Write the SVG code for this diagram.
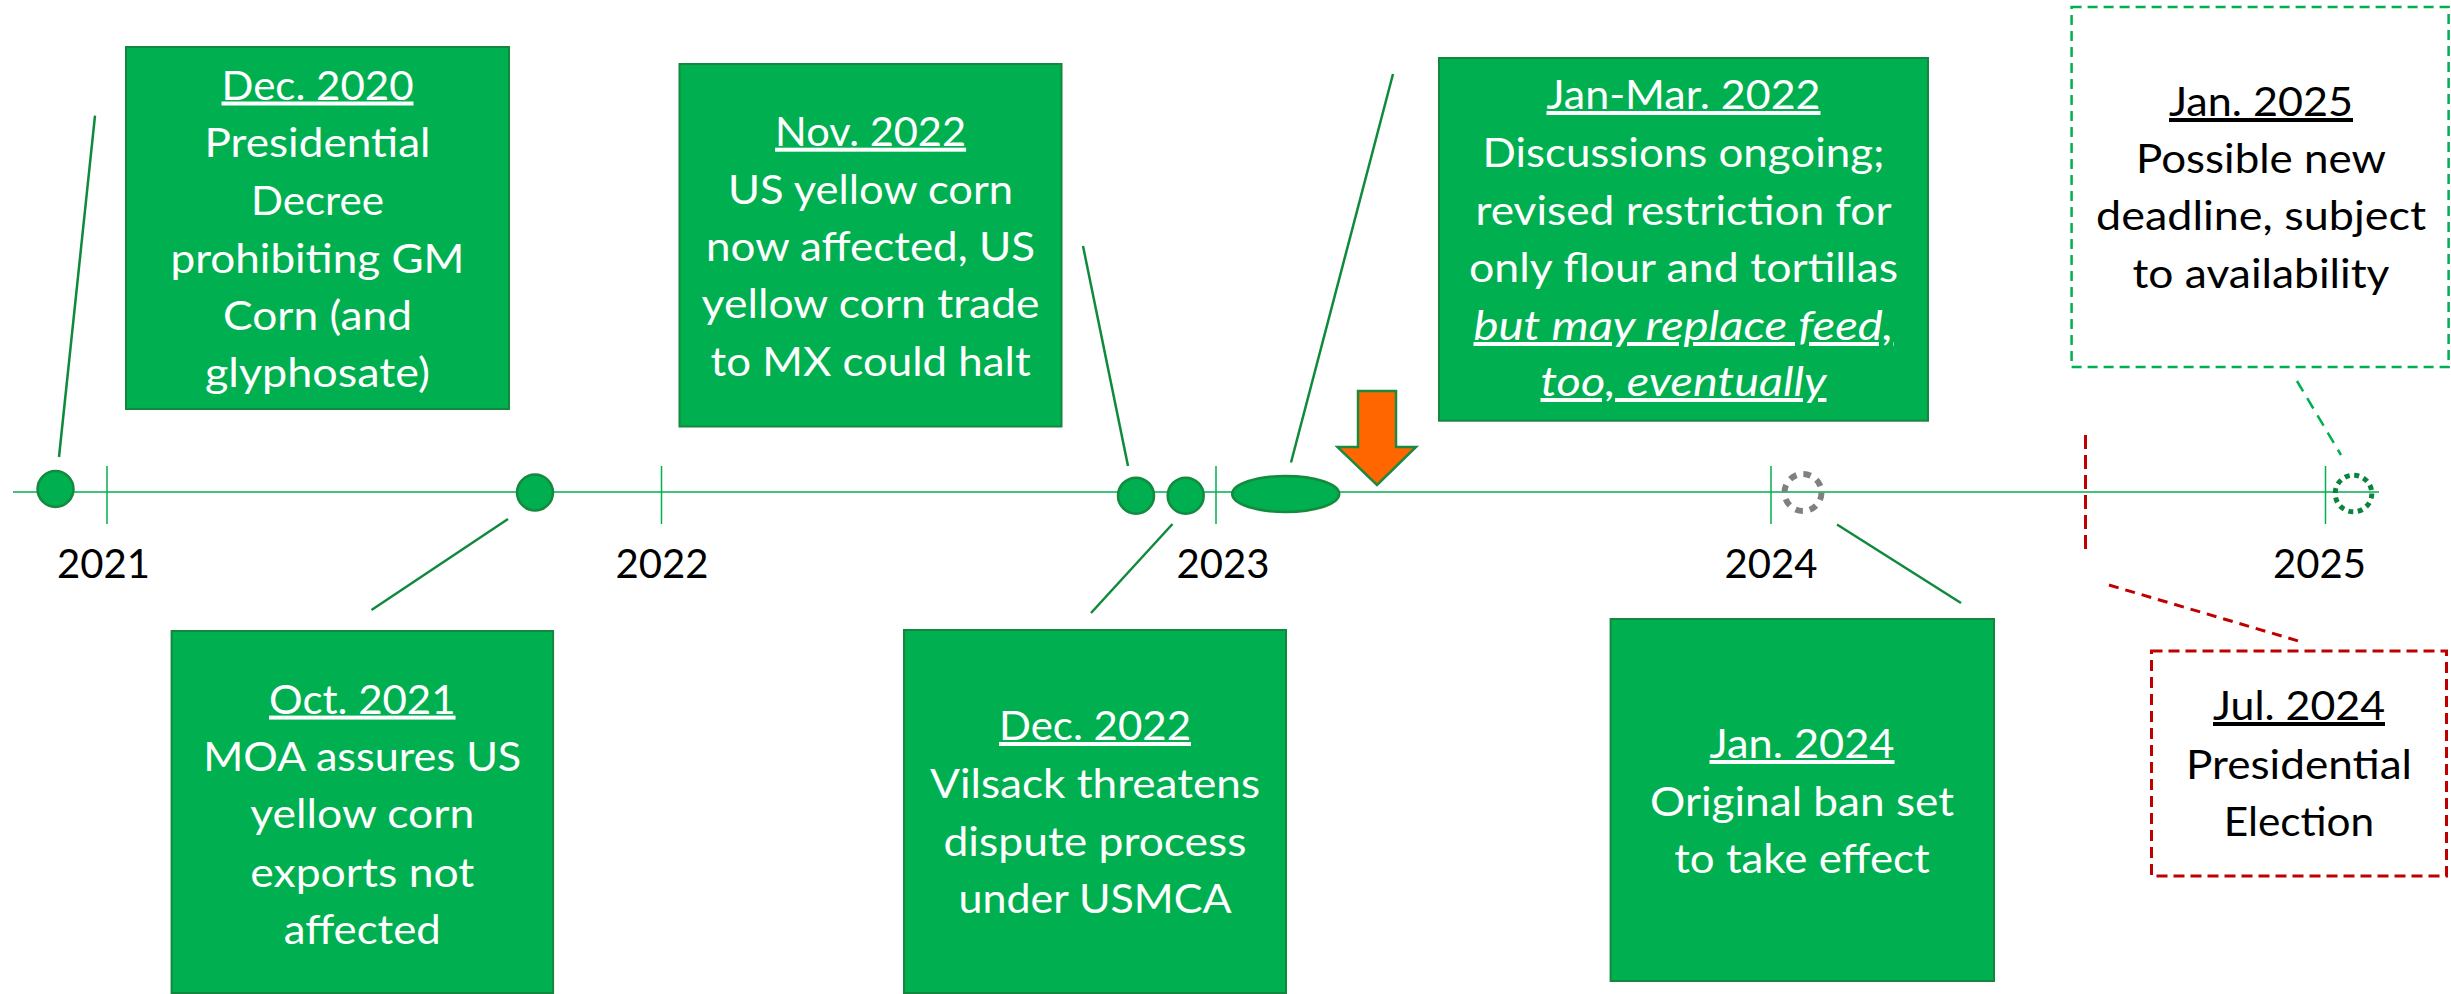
<svg xmlns="http://www.w3.org/2000/svg" width="2451" height="994" viewBox="0 0 2451 994">
  <style>
    .box { fill: #00B050; stroke: #14873F; stroke-width: 2; }
    .t { font-family: Lato, "Open Sans", "Liberation Sans", sans-serif; font-size: 40px; text-anchor: middle; }
    .w { fill: #FFFFFF; }
    .k { fill: #000000; }
    .u { text-decoration: underline; text-decoration-thickness: 2.5px; text-underline-offset: 7px; }
    .i { font-style: italic; }
    .axis { stroke: #00B050; stroke-width: 1.5; fill: none; }
    .conn { stroke: #0F8A3C; stroke-width: 2.5; fill: none; }
    .mark { fill: #00B050; stroke: #138A3E; stroke-width: 2.5; }
    .greenDash { stroke: #00B050; stroke-width: 2.5; stroke-dasharray: 10 6; fill: none; }
    .redDash { stroke: #C00000; stroke-width: 3; stroke-dasharray: 11 6; fill: none; }
  </style>

  <rect width="2451" height="994" fill="#FFFFFF"/>

  <!-- time axis with yearly ticks -->
  <g id="axis">
    <line class="axis" x1="13" y1="492" x2="2379" y2="492"/>
    <line class="axis" x1="107" y1="466" x2="107" y2="524"/>
    <line class="axis" x1="661.5" y1="466" x2="661.5" y2="524"/>
    <line class="axis" x1="1216" y1="466" x2="1216" y2="524"/>
    <line class="axis" x1="1771" y1="466" x2="1771" y2="524"/>
    <line class="axis" x1="2325.5" y1="466" x2="2325.5" y2="524"/>
    <text class="t k" x="103.5" y="578" textLength="93" lengthAdjust="spacingAndGlyphs">2021</text>
    <text class="t k" x="662" y="578" textLength="93" lengthAdjust="spacingAndGlyphs">2022</text>
    <text class="t k" x="1223" y="578" textLength="93" lengthAdjust="spacingAndGlyphs">2023</text>
    <text class="t k" x="1771" y="578" textLength="93" lengthAdjust="spacingAndGlyphs">2024</text>
    <text class="t k" x="2319.5" y="578" textLength="93" lengthAdjust="spacingAndGlyphs">2025</text>
  </g>

  <!-- leader lines from events to their cards -->
  <g id="connectors">
    <line class="conn" x1="95" y1="115.6" x2="59" y2="457"/>
    <line class="conn" x1="508" y1="519" x2="371.5" y2="610"/>
    <line class="conn" x1="1083" y1="246" x2="1128" y2="466"/>
    <line class="conn" x1="1393" y1="74" x2="1291" y2="462.5"/>
    <line class="conn" x1="1172.5" y1="524" x2="1091" y2="613"/>
    <line class="conn" x1="1837" y1="524.5" x2="1961" y2="603"/>
    <line x1="2297" y1="381" x2="2341" y2="455" stroke="#00B050" stroke-width="2.5" stroke-dasharray="12 8"/>
    <line x1="2109" y1="585" x2="2298.5" y2="641" stroke="#C00000" stroke-width="3" stroke-dasharray="10 7"/>
    <line x1="2085.5" y1="435" x2="2085.5" y2="550" stroke="#C00000" stroke-width="3" stroke-dasharray="14 6"/>
  </g>

  <!-- event markers on the axis -->
  <g id="markers">
    <circle class="mark" cx="55.5" cy="489" r="18"/>
    <circle class="mark" cx="535" cy="492.5" r="18"/>
    <circle class="mark" cx="1136" cy="495.7" r="18"/>
    <circle class="mark" cx="1185.7" cy="495.7" r="18"/>
    <ellipse class="mark" cx="1285.7" cy="494" rx="53.5" ry="18"/>
    <circle cx="1803" cy="492.5" r="18.5" fill="none" stroke="#808080" stroke-width="6" stroke-dasharray="7.5 7"/>
    <circle cx="2353.5" cy="493.5" r="18.3" fill="none" stroke="#0A843C" stroke-width="5" stroke-dasharray="5 4.6"/>
    <polygon points="1358,391 1396,391 1396,447 1416,447 1377,485 1337.5,447 1358,447" fill="#FF6600" stroke="#1B8A3E" stroke-width="2.5" stroke-linejoin="miter"/>
  </g>

  <g id="dec2020">
    <rect class="box" x="126" y="47" width="383" height="362"/>
    <text class="t w u" x="317.5" y="99.5" textLength="192" lengthAdjust="spacingAndGlyphs">Dec. 2020</text>
    <text class="t w" x="317.5" y="157" textLength="226" lengthAdjust="spacingAndGlyphs">Presidential</text>
    <text class="t w" x="317.5" y="214.5" textLength="133" lengthAdjust="spacingAndGlyphs">Decree</text>
    <text class="t w" x="317.5" y="272.5" textLength="294" lengthAdjust="spacingAndGlyphs">prohibiting GM</text>
    <text class="t w" x="317.5" y="330" textLength="189" lengthAdjust="spacingAndGlyphs">Corn (and</text>
    <text class="t w" x="317.5" y="387" textLength="225" lengthAdjust="spacingAndGlyphs">glyphosate)</text>
  </g>

  <g id="oct2021">
    <rect class="box" x="171.6" y="631" width="381.5" height="362"/>
    <text class="t w u" x="362.3" y="713.6" textLength="186.5" lengthAdjust="spacingAndGlyphs">Oct. 2021</text>
    <text class="t w" x="362.3" y="770.5" textLength="318" lengthAdjust="spacingAndGlyphs">MOA assures US</text>
    <text class="t w" x="362.3" y="828" textLength="224" lengthAdjust="spacingAndGlyphs">yellow corn</text>
    <text class="t w" x="362.3" y="886.7" textLength="224" lengthAdjust="spacingAndGlyphs">exports not</text>
    <text class="t w" x="362.3" y="943.6" textLength="157" lengthAdjust="spacingAndGlyphs">affected</text>
  </g>

  <g id="nov2022">
    <rect class="box" x="679.5" y="64" width="382" height="362.5"/>
    <text class="t w u" x="870.6" y="145.7" textLength="191" lengthAdjust="spacingAndGlyphs">Nov. 2022</text>
    <text class="t w" x="870.6" y="203.6" textLength="285" lengthAdjust="spacingAndGlyphs">US yellow corn</text>
    <text class="t w" x="870.6" y="260.7" textLength="329" lengthAdjust="spacingAndGlyphs">now affected, US</text>
    <text class="t w" x="870.6" y="317.9" textLength="338" lengthAdjust="spacingAndGlyphs">yellow corn trade</text>
    <text class="t w" x="870.6" y="375.7" textLength="320" lengthAdjust="spacingAndGlyphs">to MX could halt</text>
  </g>

  <g id="dec2022">
    <rect class="box" x="904" y="630" width="382" height="363"/>
    <text class="t w u" x="1095" y="740" textLength="192" lengthAdjust="spacingAndGlyphs">Dec. 2022</text>
    <text class="t w" x="1095" y="797.7" textLength="330" lengthAdjust="spacingAndGlyphs">Vilsack threatens</text>
    <text class="t w" x="1095" y="856.4" textLength="303" lengthAdjust="spacingAndGlyphs">dispute process</text>
    <text class="t w" x="1095" y="913" textLength="273" lengthAdjust="spacingAndGlyphs">under USMCA</text>
  </g>

  <g id="janmar2022">
    <rect class="box" x="1439" y="58" width="489" height="362.7"/>
    <text class="t w u" x="1683.5" y="109" textLength="274" lengthAdjust="spacingAndGlyphs">Jan-Mar. 2022</text>
    <text class="t w" x="1683.5" y="167" textLength="402" lengthAdjust="spacingAndGlyphs">Discussions ongoing;</text>
    <text class="t w" x="1683.5" y="225" textLength="416" lengthAdjust="spacingAndGlyphs">revised restriction for</text>
    <text class="t w" x="1683.5" y="282" textLength="429" lengthAdjust="spacingAndGlyphs">only flour and tortillas</text>
    <text class="t w u i" x="1683.5" y="340" textLength="420" lengthAdjust="spacingAndGlyphs">but may replace feed,</text>
    <text class="t w u i" x="1683.5" y="396" textLength="286" lengthAdjust="spacingAndGlyphs">too, eventually</text>
  </g>

  <g id="jan2024">
    <rect class="box" x="1610.6" y="619" width="383.4" height="362"/>
    <text class="t w u" x="1802" y="758" textLength="185" lengthAdjust="spacingAndGlyphs">Jan. 2024</text>
    <text class="t w" x="1802" y="816" textLength="304" lengthAdjust="spacingAndGlyphs">Original ban set</text>
    <text class="t w" x="1802" y="872.7" textLength="255.5" lengthAdjust="spacingAndGlyphs">to take effect</text>
  </g>

  <g id="jul2024">
    <rect class="redDash" x="2151.5" y="651" width="295" height="225"/>
    <text class="t k u" x="2299" y="720" textLength="172" lengthAdjust="spacingAndGlyphs">Jul. 2024</text>
    <text class="t k" x="2299" y="778.8" textLength="226" lengthAdjust="spacingAndGlyphs">Presidential</text>
    <text class="t k" x="2299" y="835.6" textLength="150.5" lengthAdjust="spacingAndGlyphs">Election</text>
  </g>

  <g id="jan2025">
    <rect class="greenDash" x="2071.6" y="7" width="377" height="360"/>
    <text class="t k u" x="2261" y="116" textLength="184" lengthAdjust="spacingAndGlyphs">Jan. 2025</text>
    <text class="t k" x="2261" y="173" textLength="250" lengthAdjust="spacingAndGlyphs">Possible new</text>
    <text class="t k" x="2261" y="230" textLength="330" lengthAdjust="spacingAndGlyphs">deadline, subject</text>
    <text class="t k" x="2261" y="287.5" textLength="257" lengthAdjust="spacingAndGlyphs">to availability</text>
  </g>
</svg>
